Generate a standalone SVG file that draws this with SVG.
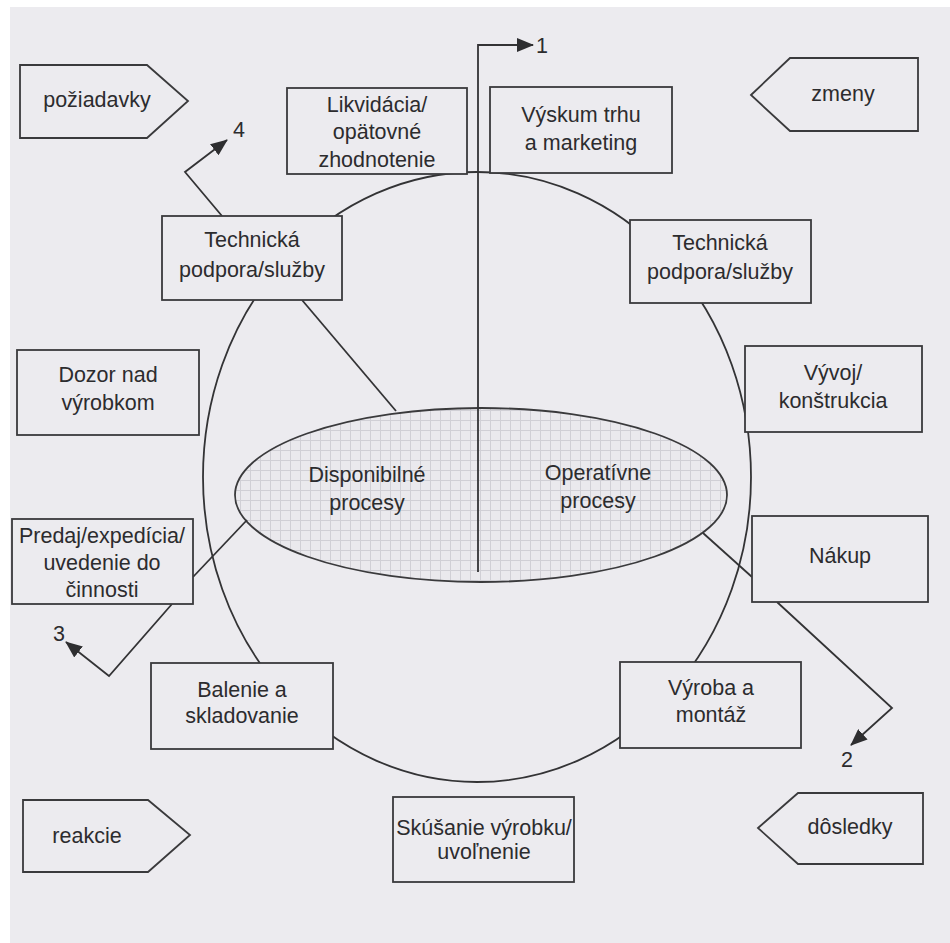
<svg xmlns="http://www.w3.org/2000/svg" width="950" height="943" viewBox="0 0 950 943">
<defs>
<pattern id="grid" x="0" y="0" width="10" height="10" patternUnits="userSpaceOnUse">
<rect width="10" height="10" fill="#eae9ed"/>
<path d="M0,0.5H10M0.5,0V10" stroke="#d0cfd5" stroke-width="1" fill="none"/>
</pattern>
<marker id="ah" markerWidth="17" markerHeight="14" refX="16" refY="7" orient="auto" markerUnits="userSpaceOnUse">
<path d="M0,0 L17,7 L0,14 Z" fill="#2e2e30"/>
</marker>
</defs>
<style>
.bx{fill:#ecebef;stroke:#3a3a3c;stroke-width:1.8}
.ln{fill:none;stroke:#333335;stroke-width:1.8}
text{font-family:"Liberation Sans",Arial,sans-serif;font-size:21.5px;fill:#2c2c2e;text-anchor:middle}
</style>
<rect width="950" height="943" fill="#ffffff"/>
<rect x="10" y="7" width="940" height="936" fill="#ecebef"/>

<g id="center-ellipse">
<ellipse cx="481" cy="495" rx="246" ry="87" fill="url(#grid)" stroke="#3a3a3c" stroke-width="1.8"/>
<text x="367" y="482">Disponibilné</text>
<text x="367" y="510">procesy</text>
<text x="598" y="480">Operatívne</text>
<text x="598" y="508">procesy</text>
</g>

<g id="connectors">
<ellipse class="ln" cx="477" cy="477" rx="274" ry="305"/>
<line class="ln" x1="302" y1="300" x2="396" y2="411"/>
<line class="ln" x1="193" y1="577" x2="247" y2="520"/>
<line class="ln" x1="703" y1="533" x2="752" y2="577"/>
<path class="ln" d="M478,572 V45 H533" marker-end="url(#ah)"/>
<path class="ln" d="M222,216 L185,172 L227,140" marker-end="url(#ah)"/>
<path class="ln" d="M172,604 L109,676 L66,642" marker-end="url(#ah)"/>
<path class="ln" d="M777,602 L892,708 L851,745" marker-end="url(#ah)"/>
<text x="542" y="53">1</text>
<text x="847" y="767">2</text>
<text x="59" y="641">3</text>
<text x="239" y="137">4</text>
</g>

<g id="poziadavky">
<path class="bx" d="M20,65 H147 L188,101 L147,138 H20 Z"/>
<text x="97" y="107">požiadavky</text>
</g>
<g id="zmeny">
<path class="bx" d="M751,95 L790,58 H918 V131 H790 Z"/>
<text x="843" y="101">zmeny</text>
</g>
<g id="reakcie">
<path class="bx" d="M23,800 H148 L190,835 L148,872 H23 Z"/>
<text x="87" y="843">reakcie</text>
</g>
<g id="dosledky">
<path class="bx" d="M758,828 L798,793 H923 V864 H798 Z"/>
<text x="850" y="834">dôsledky</text>
</g>

<g id="likvidacia">
<rect class="bx" x="287" y="88" width="180" height="86"/>
<text x="377" y="112">Likvidácia/</text>
<text x="377" y="139">opätovné</text>
<text x="377" y="167">zhodnotenie</text>
</g>
<g id="vyskum">
<rect class="bx" x="490" y="87" width="182" height="86"/>
<text x="581" y="122">Výskum trhu</text>
<text x="581" y="150">a marketing</text>
</g>
<g id="technicka-l">
<rect class="bx" x="162" y="216" width="180" height="84"/>
<text x="252" y="247">Technická</text>
<text x="252" y="277">podpora/služby</text>
</g>
<g id="technicka-r">
<rect class="bx" x="630" y="220" width="181" height="83"/>
<text x="720" y="250">Technická</text>
<text x="720" y="279">podpora/služby</text>
</g>
<g id="dozor">
<rect class="bx" x="17" y="350" width="182" height="85"/>
<text x="108" y="382">Dozor nad</text>
<text x="108" y="410">výrobkom</text>
</g>
<g id="vyvoj">
<rect class="bx" x="745" y="346" width="177" height="86"/>
<text x="833" y="380">Vývoj/</text>
<text x="833" y="408">konštrukcia</text>
</g>
<g id="predaj">
<rect class="bx" x="12" y="519" width="181" height="85"/>
<text x="102" y="543">Predaj/expedícia/</text>
<text x="102" y="570">uvedenie do</text>
<text x="102" y="597">činnosti</text>
</g>
<g id="nakup">
<rect class="bx" x="752" y="516" width="176" height="86"/>
<text x="840" y="563">Nákup</text>
</g>
<g id="balenie">
<rect class="bx" x="151" y="663" width="182" height="86"/>
<text x="242" y="697">Balenie a</text>
<text x="242" y="723">skladovanie</text>
</g>
<g id="vyroba">
<rect class="bx" x="620" y="662" width="181" height="86"/>
<text x="711" y="695">Výroba a</text>
<text x="711" y="722">montáž</text>
</g>
<g id="skusanie">
<rect class="bx" x="393" y="797" width="181" height="85"/>
<text x="484" y="835">Skúšanie výrobku/</text>
<text x="484" y="859">uvoľnenie</text>
</g>
</svg>
